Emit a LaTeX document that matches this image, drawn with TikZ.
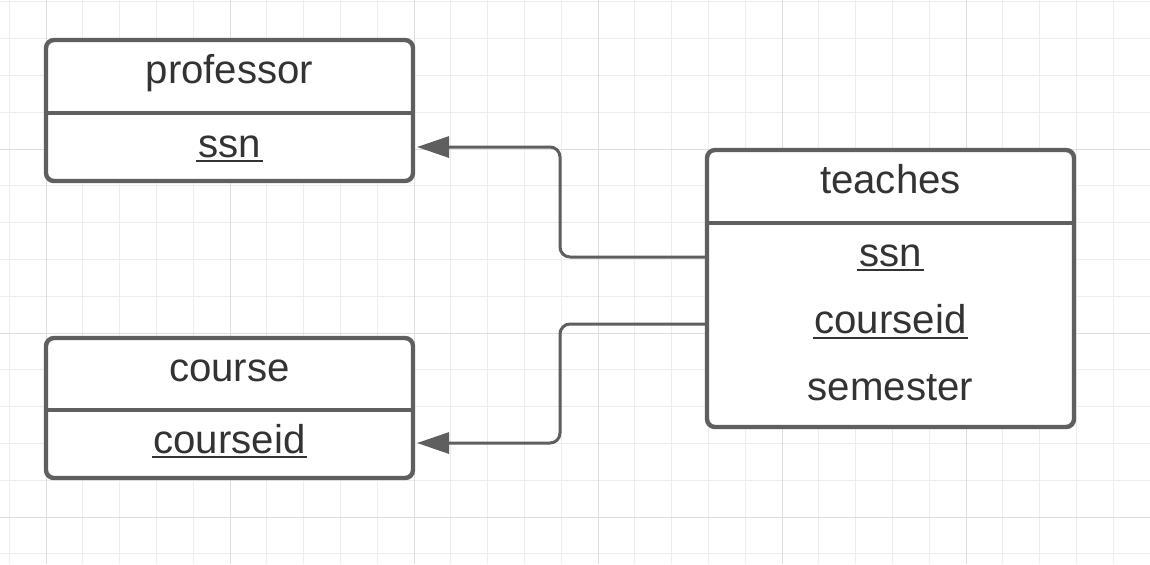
\documentclass[tikz,border=0pt]{standalone}
\usepackage{fontspec}
\setmainfont{Liberation Sans}
\usetikzlibrary{arrows.meta,calc}
\definecolor{strokegray}{HTML}{5F5F5F}
\definecolor{textgray}{HTML}{333333}
\definecolor{gridminor}{HTML}{EDEDED}
\definecolor{gridmajor}{HTML}{DEDEDE}
\newcommand\keyul[1]{\setbox0\hbox{#1}\rlap{\hspace{-1pt}\rule[-2.5pt]{\dimexpr\wd0+2pt\relax}{1pt}}\box0}
\tikzset{
  box/.style={draw=strokegray, line width=2.2pt, rounded corners=4pt, fill=white, inner sep=0pt, outer sep=0pt},
  divider/.style={draw=strokegray, line width=2.2pt},
  lbl/.style={text=textgray, anchor=base, inner sep=0pt, font=\fontsize{20.1}{24}\selectfont},
  conn/.style={draw=strokegray, line width=1.5pt, rounded corners=5pt, -{Triangle[length=16pt,width=10.5pt]}},
  gminor/.style={draw=gridminor, line width=0.5pt},
  gmajor/.style={draw=gridmajor, line width=0.5pt}
}
\begin{document}
\begin{tikzpicture}[x=0.5pt,y=-0.5pt]
\useasboundingbox (0,0) rectangle (1150,564);
\fill[white] (0,0) rectangle (1150,564);
% grid
\foreach \i in {0,...,30} {\draw[gminor] ({9.2+36.8*\i},0) -- ({9.2+36.8*\i},564);}
\foreach \i in {0,...,15} {\draw[gminor] (0,{1.8+36.8*\i}) -- (1150,{1.8+36.8*\i});}
\foreach \i in {0,...,6} {\draw[gmajor] ({46+184*\i},0) -- ({46+184*\i},564);}
\foreach \i in {0,...,2} {\draw[gmajor] (0,{149+184*\i}) -- (1150,{149+184*\i});}
% professor
\node[box, minimum width=183.5pt, minimum height=70.5pt] (prof) at (229.5,110.5) {};
\draw[divider] (prof.west |- 0,113) -- (prof.east |- 0,113);
\node[lbl] (profname) at (229.5,83) {professor};
\node[lbl] (profssn) at (229.5,157) {\keyul{ssn}};
% course
\node[box, minimum width=183.5pt, minimum height=70pt] (course) at (229.5,408) {};
\draw[divider] (course.west |- 0,410) -- (course.east |- 0,410);
\node[lbl] (coursename) at (229.5,381) {course};
\node[lbl] (courseid) at (229.5,453) {\keyul{courseid}};
% teaches
\node[box, minimum width=183.5pt, minimum height=138.5pt] (teaches) at (890.5,288.5) {};
\draw[divider] (teaches.west |- 0,223) -- (teaches.east |- 0,223);
\node[lbl] (teachname) at (890.5,193.5) {teaches};
\node[lbl] (tssn) at (890.5,266) {\keyul{ssn}};
\node[lbl] (tcid) at (890.5,333.5) {\keyul{courseid}};
\node[lbl] (tsem) at (890.5,400) {semester};
% connector anchors
\coordinate (ssnout) at (teaches.west |- 0,257);
\coordinate (cidout) at (teaches.west |- 0,324);
\coordinate (midx) at (560,0);
\coordinate (ssnin) at (417,147);
\coordinate (cidin) at (417,443);
\draw[conn] (ssnout) -- (ssnout -| midx) -- (midx |- ssnin) -- (ssnin);
\draw[conn] (cidout) -- (cidout -| midx) -- (midx |- cidin) -- (cidin);
\end{tikzpicture}
\end{document}
